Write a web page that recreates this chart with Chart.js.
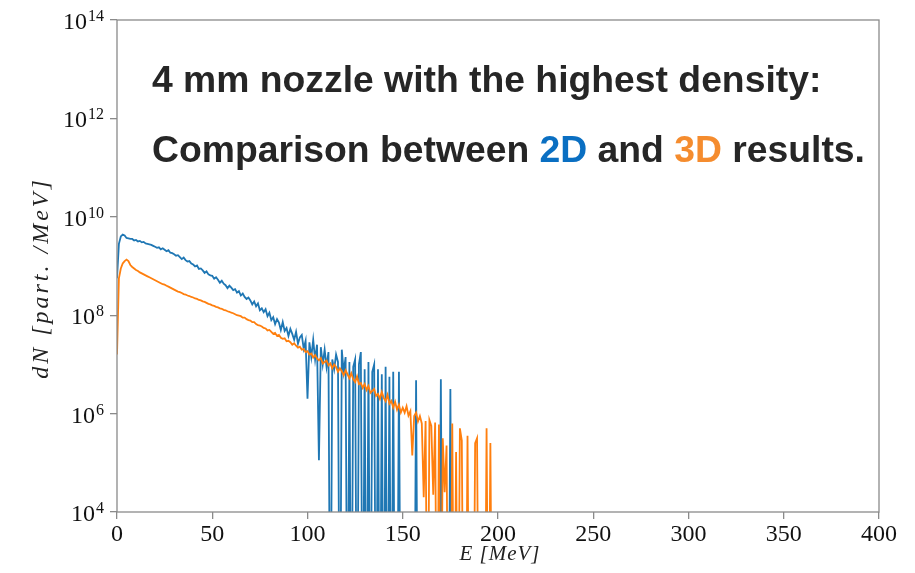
<!DOCTYPE html>
<html>
<head>
<meta charset="utf-8">
<title>dN/dE spectrum, 2D vs 3D</title>
<script src="https://cdn.jsdelivr.net/npm/chart.js@4.4.1/dist/chart.umd.min.js"></script>
<style>
    html, body { margin: 0; padding: 0; background: #fff; }
    #wrap { width: 915px; height: 573px; }
</style>
</head>
<body>
<div id="wrap"><canvas id="spectrum" width="915" height="573"></canvas></div>
<script>
// Energy bins are 1 MeV wide, starting at 0 MeV
const binWidthMeV = 1;

// log10(dN), one value per bin; null = empty bin (no particles)
const blueLog10 = [
    8.75, 9.45, 9.60, 9.64, 9.62, 9.57, 9.56, 9.55, 9.55, 9.52,
    9.53, 9.50, 9.51, 9.48, 9.49, 9.46, 9.45, 9.44, 9.43, 9.41,
    9.39, 9.37, 9.38, 9.34, 9.36, 9.33, 9.30, 9.32, 9.27, 9.26,
    9.24, 9.21, 9.22, 9.18, 9.14, 9.17, 9.12, 9.09, 9.10, 9.05,
    9.03, 8.99, 9.01, 8.94, 8.95, 8.91, 8.86, 8.89, 8.83, 8.81,
    8.80, 8.74, 8.77, 8.72, 8.66, 8.70, 8.64, 8.61, 8.55, 8.60,
    8.56, 8.51, 8.53, 8.46, 8.49, 8.40, 8.44, 8.37, 8.33, 8.36,
    8.30, 8.22, 8.28, 8.18, 8.24, 8.10, 8.14, 8.06, 8.12, 7.98,
    8.05, 7.90, 7.96, 7.82, 7.92, 7.85, 7.70, 7.86, 7.68, 7.74,
    7.58, 7.72, 7.62, 7.50, 7.66, 7.42, 7.55, 7.60, 7.32, 7.48,
    6.30, 7.45, 7.15, 7.50, 7.10, 7.40, 5.05, 7.35, 7.00, 7.30,
    6.95, 7.25, null, 7.10, 6.90, 7.20, 7.05, null, 7.30, 6.85,
    7.15, null, 7.05, null, 6.95, 7.10, null, 7.00, 7.25, null,
    6.90, null, 7.05, null, 6.85, 7.00, null, 6.90, null, 6.80,
    null, 6.95, null, 6.75, null, 6.85, null, null, 6.85, null,
    null, null, null, null, null, null, null, 6.68, null, null,
    null, null, null, null, null, null, null, null, null, null,
    6.70, null, null, null, null, 6.50, null
];

const orangeLog10 = [
    7.20, 8.75, 8.95, 9.05, 9.10, 9.13, 9.10, 9.02, 8.98, 8.95,
    8.92, 8.90, 8.87, 8.85, 8.83, 8.81, 8.79, 8.77, 8.75, 8.73,
    8.71, 8.69, 8.67, 8.65, 8.63, 8.62, 8.60, 8.58, 8.56, 8.54,
    8.52, 8.50, 8.48, 8.47, 8.45, 8.43, 8.42, 8.40, 8.39, 8.37,
    8.36, 8.34, 8.33, 8.31, 8.30, 8.28, 8.27, 8.25, 8.23, 8.22,
    8.20, 8.19, 8.17, 8.16, 8.14, 8.13, 8.11, 8.10, 8.08, 8.07,
    8.05, 8.04, 8.02, 8.00, 7.99, 7.98, 7.95, 7.95, 7.92, 7.90,
    7.89, 7.86, 7.86, 7.82, 7.80, 7.79, 7.77, 7.74, 7.73, 7.69,
    7.70, 7.66, 7.62, 7.64, 7.58, 7.60, 7.54, 7.52, 7.53, 7.47,
    7.48, 7.45, 7.40, 7.43, 7.38, 7.34, 7.36, 7.30, 7.31, 7.25,
    7.27, 7.20, 7.22, 7.14, 7.19, 7.12, 7.08, 7.13, 7.02, 7.05,
    7.08, 6.98, 7.02, 6.92, 7.00, 6.95, 6.85, 6.92, 6.86, 6.78,
    6.88, 6.80, 6.72, 6.82, 6.70, 6.64, 6.76, 6.60, 6.62, 6.52,
    6.60, 6.48, 6.56, 6.42, 6.46, 6.50, 6.36, 6.40, 6.30, 6.44,
    6.32, 6.25, 6.38, 6.20, 6.26, 6.12, 6.24, 6.08, 6.18, 6.02,
    6.12, 6.02, 6.15, 5.96, 6.05, 5.15, 5.95, 6.02, 5.84, 5.95,
    5.80, 4.30, 5.85, null, 5.87, 5.75, 4.35, 5.82, null, 5.78,
    null, 5.50, 4.40, 5.35, null, null, 5.80, null, 5.22, null,
    5.70, 5.45, null, null, 5.55, null, null, null, 5.40, 5.50,
    null, null, null, null, 5.70, null, 5.40, null
];

// Axis ticks
const xTicksMeV = [0, 50, 100, 150, 200, 250, 300, 350, 400];
const yTickExponents = [4, 6, 8, 10, 12, 14];

// Empty bins sit below the axis floor, so the line drops out of the plot
const EMPTY_BIN = 1;

const COLOR_2D = '#1f77b4';
const COLOR_3D = '#ff7f0e';
const AXIS_GREY = '#8a8a8a';
const SERIF = "'Liberation Serif', 'DejaVu Serif', serif";

function toPoints(logs) {
    return logs.map((v, i) => ({
        x: i * binWidthMeV,
        y: v === null ? EMPTY_BIN : Math.pow(10, v)
    }));
}

// Frame around the plot area (matplotlib style box)
const frame = {
    id: 'frame',
    afterDatasetsDraw(chart) {
        const { ctx, chartArea: a } = chart;
        ctx.save();
        ctx.strokeStyle = AXIS_GREY;
        ctx.lineWidth = 1.3;
        ctx.strokeRect(a.left, a.top, a.right - a.left, a.bottom - a.top);
        ctx.restore();
    }
};

// 10^n labels with a real raised exponent, plus the two axis titles
const axisText = {
    id: 'axisText',
    afterDraw(chart) {
        const ctx = chart.ctx;
        const y = chart.scales.y;
        const a = chart.chartArea;
        ctx.save();
        ctx.fillStyle = '#111';
        ctx.textBaseline = 'alphabetic';
        yTickExponents.forEach(e => {
            const py = y.getPixelForValue(Math.pow(10, e));
            const exp = String(e);
            ctx.font = `16px ${SERIF}`;
            const expW = ctx.measureText(exp).width;
            const right = 104;
            ctx.textAlign = 'right';
            ctx.fillText(exp, right, py + 1);
            ctx.font = `24px ${SERIF}`;
            ctx.fillText('10', right - expW - 1, py + 9);
        });

        ctx.fillStyle = '#222';
        ctx.textAlign = 'center';
        ctx.font = `italic 21px ${SERIF}`;
        ctx.letterSpacing = '1px';
        ctx.fillText('E [MeV]', (a.left + a.right) / 2 + 2, 560);

        ctx.translate(48, 278);
        ctx.rotate(-Math.PI / 2);
        ctx.font = `italic 24px ${SERIF}`;
        ctx.letterSpacing = '3px';
        ctx.fillText('dN [part. /MeV]', 0, 0);
        ctx.restore();
    }
};

// Slide heading pasted over the plot
const heading = {
    id: 'heading',
    afterDraw(chart) {
        const ctx = chart.ctx;
        ctx.save();
        ctx.font = "bold 37.3px 'Liberation Sans', Arial, sans-serif";
        ctx.textBaseline = 'alphabetic';
        ctx.fillStyle = '#262626';
        ctx.fillText('4 mm nozzle with the highest density:', 152, 92);

        const parts = [
            ['Comparison between ', '#262626'],
            ['2D', '#0a6fc2'],
            [' and ', '#262626'],
            ['3D', '#f58c2e'],
            [' results.', '#262626']
        ];
        let x = 152;
        parts.forEach(([text, color]) => {
            ctx.fillStyle = color;
            ctx.fillText(text, x, 162);
            x += ctx.measureText(text).width;
        });
        ctx.restore();
    }
};

new Chart(document.getElementById('spectrum'), {
    type: 'line',
    data: {
        datasets: [
            {
                label: '2D',
                data: toPoints(blueLog10),
                borderColor: COLOR_2D,
                borderWidth: 1.8,
                pointRadius: 0,
                tension: 0,
                order: 2
            },
            {
                label: '3D',
                data: toPoints(orangeLog10),
                borderColor: COLOR_3D,
                borderWidth: 1.8,
                pointRadius: 0,
                tension: 0,
                order: 1
            }
        ]
    },
    options: {
        responsive: false,
        animation: false,
        events: [],
        layout: { padding: { top: 20, right: 36, left: 0, bottom: 0 } },
        plugins: {
            legend: { display: false },
            tooltip: { enabled: false }
        },
        scales: {
            x: {
                type: 'linear',
                min: 0,
                max: 400,
                afterBuildTicks: scale => {
                    scale.ticks = xTicksMeV.map(v => ({ value: v }));
                },
                afterFit: scale => { scale.height = 61; },
                grid: {
                    drawOnChartArea: false,
                    drawTicks: true,
                    tickLength: 7,
                    color: AXIS_GREY,
                    lineWidth: 1.3
                },
                border: { display: false },
                ticks: {
                    color: '#111',
                    padding: 1,
                    maxRotation: 0,
                    font: { family: SERIF, size: 24 }
                },
                title: { display: false }
            },
            y: {
                type: 'logarithmic',
                min: 1e4,
                max: 1e14,
                afterBuildTicks: scale => {
                    scale.ticks = yTickExponents.map(e => ({ value: Math.pow(10, e) }));
                },
                afterFit: scale => { scale.width = 117; },
                grid: {
                    drawOnChartArea: false,
                    drawTicks: true,
                    tickLength: 7,
                    color: AXIS_GREY,
                    lineWidth: 1.3
                },
                border: { display: false },
                ticks: { display: false },
                title: { display: false }
            }
        }
    },
    plugins: [frame, axisText, heading]
});
</script>
</body>
</html>
